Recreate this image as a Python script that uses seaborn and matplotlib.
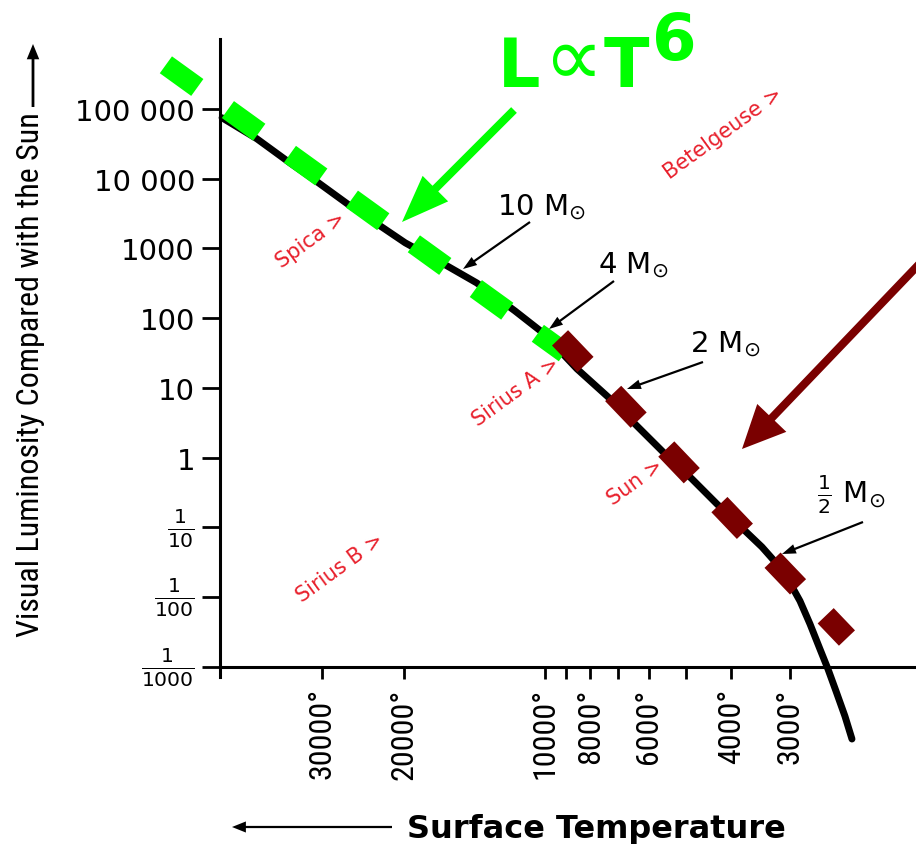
import matplotlib
matplotlib.use('Agg')
import matplotlib.pyplot as plt
import seaborn as sns
from matplotlib.ticker import NullFormatter, NullLocator

# --- values (temperature in K, luminosity in suns) ---
temp_curve = [49000, 41300, 35100, 30700, 26100, 22200, 19900, 16200, 14000, 11600,
              10100, 8546, 7337, 6364, 5598, 4855, 4293, 3795, 3440, 3180, 2997,
              2853, 2716, 2586, 2486, 2390, 2287, 2209]
lum_curve = [74300, 37200, 16800, 8980, 4070, 1970, 1200, 561, 320, 127,
             61.4, 18.7, 7.43, 2.85, 1.21, 0.496, 0.217, 0.0984, 0.0525, 0.029, 0.016,
             0.00884, 0.00414, 0.00181, 0.000936, 0.000453, 0.000198, 0.0000929]

# the two overlaid dashed fits
temp_hot = [64600, 9070]
lum_hot = [427000, 31.8]
temp_cool = [9290, 2264]
lum_cool = [52.1, 0.0026]

x_ticks = [30000, 20000, 10000, 8000, 6000, 4000, 3000]
x_tick_labels = ['30000°', '20000°', '10000°', '8000°', '6000°', '4000°', '3000°']
x_minor = [9000, 7000, 5000]
y_ticks = [1e-3, 1e-2, 1e-1, 1, 10, 100, 1000, 1e4, 1e5]
y_tick_labels = [r'$\frac{1}{1000}$', r'$\frac{1}{100}$', r'$\frac{1}{10}$',
                 '1', '10', '100', '1000', '10 000', '100 000']

star_names = ['Betelgeuse >', 'Spica >', 'Sirius A >', 'Sun >', 'Sirius B >']
mass_labels = [r'10 M$_{\odot}$', r'4 M$_{\odot}$', r'2 M$_{\odot}$', r'$\frac{1}{2}$ M$_{\odot}$']

# --- style ---
sns.set_theme(style='ticks', rc={'text.color': 'black', 'axes.labelcolor': 'black',
                                 'xtick.color': 'black', 'ytick.color': 'black'})
plt.rcParams['font.family'] = ['DejaVu Sans']
plt.rcParams['mathtext.fontset'] = 'dejavusans'

W, H = 916, 845
GREEN = '#00ff00'
DARKRED = '#7a0000'
RED = '#e8202c'


def fxy(px, py):
    # image pixel -> figure fraction
    return px / W, 1 - py / H


fig = plt.figure(figsize=(W / 100, H / 100), dpi=100)
fig.patch.set_facecolor('white')
ax = fig.add_axes([220 / W, 1 - 668 / H, 1 - 220 / W, (668 - 40) / H])
ax.set_facecolor('white')
ax.set_xscale('log')
ax.set_yscale('log')

# main sequence curve
sns.lineplot(x=temp_curve, y=lum_curve, sort=False, color='black', lw=5,
             ax=ax, clip_on=False, zorder=3)
# L ~ T^6 fit (green) and cooler part (dark red)
sns.lineplot(x=temp_hot, y=lum_hot, sort=False, color=GREEN, lw=15,
             ls=(0, (1.86, 1.81)), ax=ax, clip_on=False, zorder=4)
sns.lineplot(x=temp_cool, y=lum_cool, sort=False, color=DARKRED, lw=16,
             ls=(0, (1.66, 1.80)), ax=ax, clip_on=False, zorder=5)

ax.set_xlim(49500, 1612)
ax.set_ylim(1e-3, 1e6)

# --- axes and ticks ---
for side in ['top', 'right']:
    ax.spines[side].set_visible(False)
for side in ['left', 'bottom']:
    ax.spines[side].set_linewidth(2.2)
    ax.spines[side].set_color('black')
ax.spines['left'].set_bounds(7.2e-4, 1e6)

ax.set_xticks(x_ticks, labels=x_tick_labels)
ax.set_xticks(x_minor, minor=True)
ax.xaxis.set_minor_formatter(NullFormatter())
ax.set_yticks(y_ticks, labels=y_tick_labels)
ax.yaxis.set_minor_locator(NullLocator())

ax.tick_params(axis='x', which='both', direction='out', length=8.6, width=2,
               color='black', labelcolor='black', pad=6, labelsize=23, labelrotation=90)
ax.tick_params(axis='y', which='major', direction='out', length=13, width=2,
               color='black', labelcolor='black', pad=5, labelsize=21)
for lab in ax.get_xticklabels():
    lab.set_family('Roboto Condensed')
for lab in ax.get_yticklabels():
    if 'frac' in lab.get_text():
        lab.set_va('center')

# --- axis titles with arrows ---
fig.text(*fxy(31, 375), 'Visual Luminosity Compared with the Sun', rotation=90,
         family='Roboto Condensed', fontsize=23, ha='center', va='center')
ax.annotate('', xy=fxy(33, 45), xycoords='figure fraction', xytext=fxy(33, 108),
            textcoords='figure fraction', annotation_clip=False,
            arrowprops=dict(width=2, headwidth=9, headlength=11, color='black', lw=0))
fig.text(*fxy(596, 838), 'Surface Temperature', fontsize=23, fontweight='bold',
         ha='center', va='baseline')
ax.annotate('', xy=fxy(232, 828), xycoords='figure fraction', xytext=fxy(392, 828),
            textcoords='figure fraction', annotation_clip=False,
            arrowprops=dict(width=1.6, headwidth=8, headlength=10, color='black', lw=0))

# --- star names ---
star_pos = [(723, 133), (311, 240), (516, 392), (635, 482), (340, 568)]
for name, (px, py) in zip(star_names, star_pos):
    fig.text(*fxy(px, py), name, color=RED, fontsize=15, rotation=36,
             rotation_mode='anchor', ha='center', va='center')

# --- mass labels with arrows ---
mass_text = [(497, 215), (598, 273), (690, 352), (817, 503)]
mass_tail = [(530, 223), (614, 282), (703, 363), (863, 523)]
mass_tip = [(463, 270), (549, 330), (627, 390), (782, 555)]
for lab, tpos, tail, tip in zip(mass_labels, mass_text, mass_tail, mass_tip):
    fig.text(*fxy(*tpos), lab, fontsize=21, ha='left', va='baseline')
    ax.annotate('', xy=fxy(*tip), xycoords='figure fraction', xytext=fxy(*tail),
                textcoords='figure fraction', annotation_clip=False,
                arrowprops=dict(width=1.6, headwidth=7, headlength=10, color='black', lw=0))

# --- overlay: L ~ T^6 with its arrow, and the dark red arrow ---
fig.text(*fxy(498, 87), 'L', color=GREEN, fontsize=48, fontweight='bold',
         ha='left', va='baseline')
fig.text(*fxy(573, 61), '∝', color=GREEN, fontsize=60, ha='center', va='center')
fig.text(*fxy(604, 87), 'T', color=GREEN, fontsize=48, fontweight='bold',
         ha='left', va='baseline')
fig.text(*fxy(652, 60), '6', color=GREEN, fontsize=46, fontweight='bold',
         ha='left', va='baseline')
ax.annotate('', xy=fxy(402, 223), xycoords='figure fraction', xytext=fxy(514, 111),
            textcoords='figure fraction', annotation_clip=False,
            arrowprops=dict(width=5.8, headwidth=26, headlength=34, color=GREEN, lw=0))
ax.annotate('', xy=fxy(742, 450), xycoords='figure fraction', xytext=fxy(925, 259),
            textcoords='figure fraction', annotation_clip=False,
            arrowprops=dict(width=5.8, headwidth=29, headlength=31, color=DARKRED, lw=0))

fig.savefig('out.png', dpi=100, facecolor='white')
